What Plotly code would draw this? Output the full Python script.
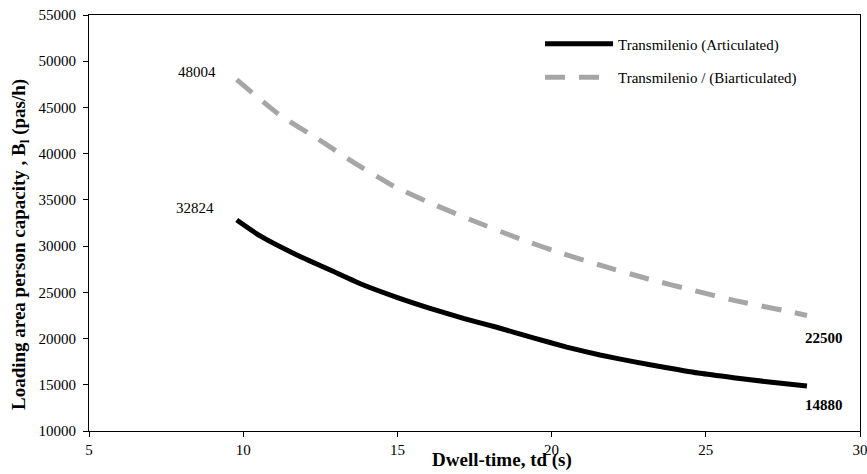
import plotly.graph_objects as go

td_art = [9.79, 10.55, 11.74, 12.82, 13.90, 14.98, 16.06, 17.14, 18.22, 19.41, 20.49,
          21.57, 22.65, 23.74, 24.82, 25.90, 26.98, 28.28]
cap_art = [32824, 31100, 29040, 27420, 25790, 24460, 23270, 22190, 21220, 20080, 19080,
           18220, 17500, 16850, 16240, 15770, 15330, 14880]

td_bi = [9.79, 11.14, 12.39, 13.63, 14.87, 16.22, 17.58, 18.98, 20.33, 21.74, 23.14, 24.55, 25.95, 27.74, 28.28]
cap_bi = [48004, 44290, 41660, 38960, 36500, 34450, 32580, 30770, 29220, 27770, 26440, 25250, 24100, 22900, 22500]

x_ticks = [5, 10, 15, 20, 25, 30]
y_ticks = list(range(10000, 55001, 5000))

FONT = "Liberation Serif"

fig = go.Figure()
fig.add_trace(go.Scatter(x=td_art, y=cap_art, mode="lines", name="Transmilenio (Articulated)",
                         legendgroup="a",
                         line=dict(color="black", width=5, shape="spline", smoothing=0.5)))
fig.add_trace(go.Scatter(x=td_bi, y=cap_bi, mode="lines", name="Transmilenio / (Biarticulated)",
                         legendgroup="b",
                         line=dict(color="#A6A6A6", width=5, dash="20px,14px", shape="spline", smoothing=0.5)))

fig.add_annotation(x=td_bi[0], y=cap_bi[0], text=str(cap_bi[0]), showarrow=False,
                   xanchor="right", xshift=-19, yshift=8, font=dict(family=FONT, size=15, color="black"))
fig.add_annotation(x=td_art[0], y=cap_art[0], text=str(cap_art[0]), showarrow=False,
                   xanchor="right", xshift=-21, yshift=12, font=dict(family=FONT, size=15, color="black"))
fig.add_annotation(x=td_bi[-1], y=cap_bi[-1], text="<b>%d</b>" % cap_bi[-1], showarrow=False,
                   xanchor="center", xshift=17, yshift=-23, font=dict(family=FONT, size=15, color="black"))
fig.add_annotation(x=td_art[-1], y=cap_art[-1], text="<b>%d</b>" % cap_art[-1], showarrow=False,
                   xanchor="center", xshift=17, yshift=-19, font=dict(family=FONT, size=15, color="black"))

# axis titles
fig.add_annotation(xref="paper", yref="paper", x=(502 - 89) / 771, y=-(460 - 431) / 416,
                   text="<b>Dwell-time, td (s)</b>", showarrow=False, xanchor="center", yanchor="middle",
                   font=dict(family=FONT, size=19, color="black"))
fig.add_annotation(xref="paper", yref="paper", x=-(89 - 20) / 771, y=(431 - 245) / 416,
                   text="<b>Loading area person capacity , B<sub>l</sub> (pas/h)</b>", showarrow=False,
                   textangle=-90, xanchor="center", yanchor="middle",
                   font=dict(family=FONT, size=19, color="black"))

fig.update_layout(
    width=867, height=474,
    margin=dict(l=89, r=7, t=15, b=43),
    paper_bgcolor="white", plot_bgcolor="white",
    font=dict(family=FONT, size=15, color="black"),
    showlegend=True,
    legend=dict(x=0.585, y=0.97, xanchor="left", yanchor="top", bgcolor="rgba(0,0,0,0)",
                font=dict(family=FONT, size=15, color="black"), itemwidth=68,
                tracegroupgap=11),
    xaxis=dict(range=[5, 30], tickvals=x_ticks, ticks="outside", ticklen=5, tickcolor="black",
               showline=True, linecolor="black", linewidth=1, mirror=True, showgrid=False,
               zeroline=False, tickfont=dict(family=FONT, size=15), tickformat="d", automargin=False,
               ticklabeloverflow="allow"),
    yaxis=dict(range=[10000, 55000], tickvals=y_ticks, ticks="outside", ticklen=5, tickcolor="black",
               showline=True, linecolor="black", linewidth=1, mirror=True, showgrid=False,
               zeroline=False, tickfont=dict(family=FONT, size=15), tickformat="d", automargin=False,
               ticklabelstandoff=4),
)

fig.write_html("out.html", config={"displayModeBar": False},
               post_script="document.body.style.margin='0px';document.body.style.overflow='hidden';")
